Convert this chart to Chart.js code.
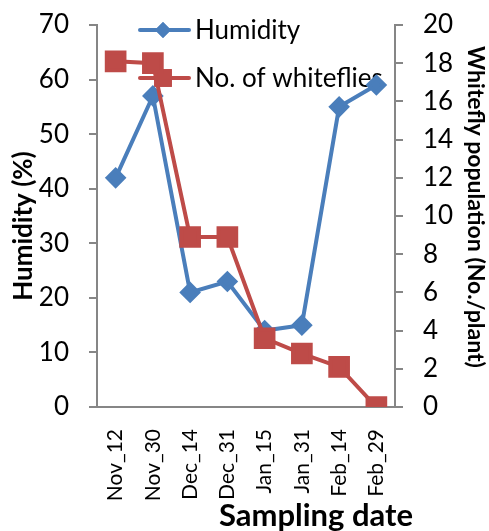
<!DOCTYPE html>
<html><head><meta charset="utf-8">
<script src="https://cdn.jsdelivr.net/npm/chart.js@4"></script>
<style>html,body{margin:0;padding:0;background:#fff}#wrap{width:489px;height:531px}</style>
</head><body><div id="wrap"><canvas id="c" width="489" height="531"></canvas></div>
<script>
const categories = ["Nov_12","Nov_30","Dec_14","Dec_31","Jan_15","Jan_31","Feb_14","Feb_29"];
const humidity = [42,57,21,23,14,15,55,59];
const whiteflies = [18.1,18.0,8.9,8.9,3.6,2.8,2.1,0];
const seriesNames = ["Humidity","No. of whiteflies"];
const leftTitle = "Humidity (%)";
const rightTitle = "Whitefly population (No./plant)";
const xTitle = "Sampling date";

const BLUE = "#4A7EBB", RED = "#BE4B48", AXIS = "#868686";
const FONT = "Lato, 'Open Sans', sans-serif";

const legendPlugin = {
  id: "customLegend",
  beforeDatasetsDraw(chart) {
    const ctx = chart.ctx;
    const items = [
      {label: seriesNames[0], color: BLUE, style: "rectRot", r: 8, y: 30},
      {label: seriesNames[1], color: RED, style: "rect", r: 12.5, y: 78}
    ];
    ctx.save();
    items.forEach(it => {
      ctx.strokeStyle = it.color; ctx.lineWidth = 4; ctx.lineCap = "round";
      ctx.beginPath(); ctx.moveTo(140, it.y); ctx.lineTo(189, it.y); ctx.stroke();
      ctx.fillStyle = it.color;
      Chart.helpers.drawPoint(ctx, {pointStyle: it.style, radius: it.r, rotation: 0, borderWidth: 0}, 163, it.y);
      ctx.fill();
      ctx.fillStyle = "#000"; ctx.font = "26px " + FONT; ctx.textBaseline = "middle"; ctx.textAlign = "left";
      ctx.fillText(it.label, 195, it.y + 1);
    });
    ctx.restore();
  },
  afterDraw(chart) {
    const ctx = chart.ctx;
    ctx.save();
    ctx.fillStyle = "#000"; ctx.textAlign = "center"; ctx.textBaseline = "middle";
    ctx.font = "bold 31px " + FONT;
    ctx.fillText(xTitle, 316, 516);
    ctx.save();
    ctx.translate(24, 226); ctx.rotate(-Math.PI / 2);
    ctx.font = "bold 26px " + FONT;
    ctx.fillText(leftTitle, 0, 0);
    ctx.restore();
    ctx.save();
    ctx.translate(475, 207); ctx.rotate(Math.PI / 2);
    ctx.font = "bold 23px " + FONT;
    ctx.fillText(rightTitle, 0, 0);
    ctx.restore();
    ctx.restore();
  }
};

function fitY(w) {
  return function(s) { s.width = w; s.paddingTop = 0; s.paddingBottom = 0; };
}

new Chart(document.getElementById("c"), {
  type: "line",
  data: {
    labels: categories,
    datasets: [
      {label: seriesNames[0], data: humidity, yAxisID: "y", borderColor: BLUE, backgroundColor: BLUE,
       borderWidth: 4, pointStyle: "rectRot", pointRadius: 8, pointHoverRadius: 8, tension: 0, order: 2},
      {label: seriesNames[1], data: whiteflies, yAxisID: "y2", borderColor: RED, backgroundColor: RED,
       borderWidth: 4, pointStyle: "rect", pointRadius: 12.5, pointHoverRadius: 12.5, tension: 0, order: 1}
    ]
  },
  options: {
    responsive: false, animation: false, devicePixelRatio: 1,
    layout: {padding: {top: 25, left: 0, right: 0, bottom: 0}},
    plugins: {legend: {display: false}, tooltip: {enabled: false}},
    scales: {
      x: {
        type: "category", offset: true,
        grid: {display: false},
        border: {display: true, color: AXIS, width: 2},
        ticks: {minRotation: 90, maxRotation: 90, padding: 14, color: "#000", font: {family: FONT, size: 21}},
        afterFit(s) { s.height = 124; s.paddingLeft = 0; s.paddingRight = 0; }
      },
      y: {
        position: "left", min: 0, max: 70,
        ticks: {stepSize: 10, padding: 20, color: "#000", font: {family: FONT, size: 26}},
        grid: {drawOnChartArea: false, drawTicks: true, tickLength: 8, color: AXIS, lineWidth: 2},
        border: {display: true, color: AXIS, width: 2},
        title: {display: false, text: leftTitle},
        afterFit: fitY(97)
      },
      y2: {
        position: "right", min: 0, max: 20,
        ticks: {stepSize: 2, padding: 20, color: "#000", font: {family: FONT, size: 26}},
        grid: {drawOnChartArea: false, drawTicks: true, tickLength: 8, color: AXIS, lineWidth: 2},
        border: {display: true, color: AXIS, width: 2},
        title: {display: false, text: rightTitle},
        afterFit: fitY(94)
      }
    }
  },
  plugins: [legendPlugin]
});
</script>
</body></html>
